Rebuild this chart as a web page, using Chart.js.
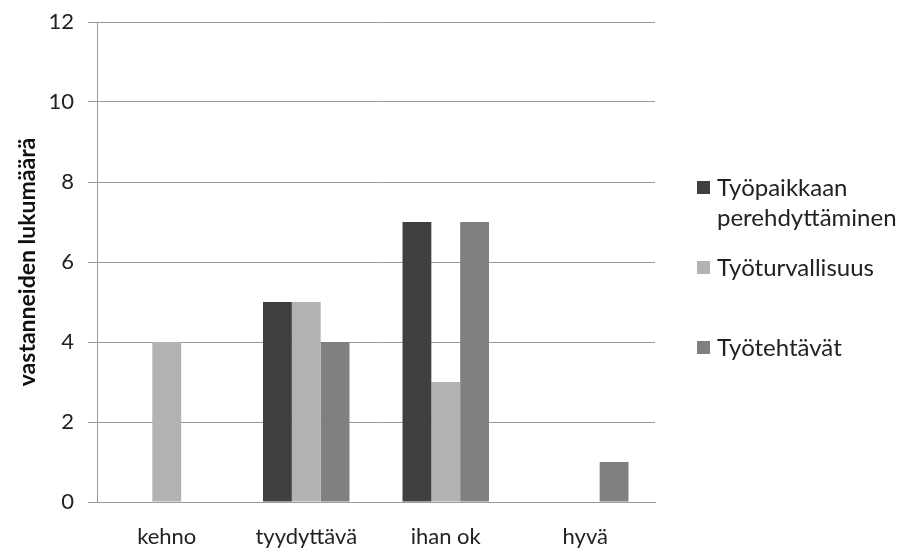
<!DOCTYPE html>
<html lang="fi">
<head>
  <meta charset="UTF-8">
  <title>Vastanneiden lukumäärä</title>
  <script src="https://cdn.jsdelivr.net/npm/chart.js"></script>
  <style>
    body { margin: 0; background: #fff; font-family: 'Lato', 'Open Sans', sans-serif; }
    .wrap { position: relative; width: 910px; height: 549px; }
    canvas { display: block; }
    .legend { position: absolute; left: 697px; top: 0; color: #222; font-size: 24px; }
    .legend .item { position: absolute; left: 0; white-space: nowrap; line-height: 30px; }
    .legend .box { position: absolute; left: 0; top: 9px; width: 13px; height: 13px; }
    .legend .txt { position: absolute; left: 20px; top: 0; }
  </style>
</head>
<body>
  <div class="wrap">
    <canvas id="chart" width="910" height="549"></canvas>
    <div class="legend" id="legend"></div>
  </div>

  <script>
    // arvot luettu kuvasta
    const categories = ['kehno', 'tyydyttävä', 'ihan ok', 'hyvä'];
    const seriesNames = [['Työpaikkaan', 'perehdyttäminen'], ['Työturvallisuus'], ['Työtehtävät']];
    const perehdyttaminen = [0, 5, 7, 0];
    const turvallisuus = [4, 5, 3, 0];
    const tehtavat = [0, 4, 7, 1];
    const colors = ['#404040', '#b2b2b2', '#808080'];

    const values = [perehdyttaminen, turvallisuus, tehtavat];
    const font = "'Lato', 'Open Sans', sans-serif";

    new Chart(document.getElementById('chart'), {
      type: 'bar',
      data: {
        labels: categories,
        datasets: values.map((v, i) => ({
          label: seriesNames[i].join(' '),
          data: v,
          backgroundColor: colors[i],
          borderWidth: 0,
          categoryPercentage: 0.62,
          barPercentage: 1
        }))
      },
      options: {
        responsive: false,
        animation: false,
        layout: { padding: { left: 14, right: 255, top: 22, bottom: 0 } },
        plugins: { legend: { display: false }, tooltip: { enabled: false } },
        scales: {
          x: {
            grid: { display: false },
            border: { color: '#999', width: 1 },
            ticks: { color: '#222', font: { family: font, size: 22 }, padding: 14 },
            afterFit: s => { s.height = 47; s.paddingLeft = 0; s.paddingRight = 0; }
          },
          y: {
            min: 0,
            max: 12,
            ticks: { stepSize: 2, color: '#222', font: { family: font, size: 22 }, padding: 14 },
            grid: { color: '#999', tickLength: 9, drawTicks: true },
            border: { color: '#999', width: 1 },
            title: {
              display: true,
              text: 'vastanneiden lukumäärä',
              color: '#111',
              font: { family: font, size: 23, weight: 'bold' },
              padding: { top: 0, bottom: 0 }
            },
            afterFit: s => { s.width = 83; s.paddingTop = 0; s.paddingBottom = 0; }
          }
        }
      }
    });

    // selite oikealle
    const legendTops = [172, 252, 332];
    const legend = document.getElementById('legend');
    seriesNames.forEach((name, i) => {
      const item = document.createElement('div');
      item.className = 'item';
      item.style.top = legendTops[i] + 'px';
      item.innerHTML = '<span class="box" style="background:' + colors[i] + '"></span>' +
        '<span class="txt">' + name.join('<br>') + '</span>';
      legend.appendChild(item);
    });
  </script>
</body>
</html>
